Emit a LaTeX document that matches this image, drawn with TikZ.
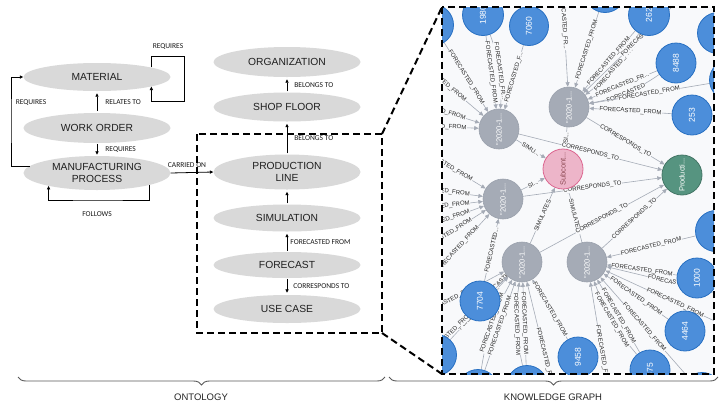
\documentclass[tikz,border=0pt]{standalone}
\usepackage{fontspec}
\setmainfont{Liberation Sans}
\newfontfamily\calfont{Carlito}
\usetikzlibrary{shapes.geometric,arrows.meta,decorations.pathreplacing}
\definecolor{ellgray}{HTML}{D9D9D9}
\definecolor{kgbg}{HTML}{F8F9FB}
\definecolor{gnode}{HTML}{A5ABB6}
\definecolor{gnodeb}{HTML}{9AA1AC}
\definecolor{bnode}{HTML}{4C8EDA}
\definecolor{bnodeb}{HTML}{2870C2}
\definecolor{pnode}{HTML}{EDB5C9}
\definecolor{pnodeb}{HTML}{DC6690}
\definecolor{ptext}{HTML}{8E4B55}
\definecolor{qnode}{HTML}{569480}
\definecolor{qnodeb}{HTML}{447666}
\definecolor{edgec}{HTML}{A5ABB6}
\definecolor{bracec}{HTML}{595959}
\pgfdeclarelayer{bg}
\pgfsetlayers{bg,main}
\newcommand\kgE[3]{\draw[kge] (#1) -- node[kgl]{#3} (#2);}
\newcommand\kgB[4]{\draw[kge] (#1) to[bend left=#4] node[kgl]{#3} (#2);}
\begin{document}
\begin{tikzpicture}[x=1pt,y=-1pt,
  ell/.style={ellipse, fill=ellgray, minimum width=147pt, minimum height=28pt, inner sep=0pt, align=center, text=black!88, font=\fontsize{10.3}{11.5}\selectfont},
  arr/.style={-{Triangle[length=3.5pt,width=3.2pt]}, line width=0.8pt},
  olbl/.style={font=\calfont\fontsize{7.5}{8}\selectfont, inner sep=0pt, text=black!90},
  gn/.style={circle, fill=gnode, draw=gnodeb, line width=0.6pt, minimum size=40pt, inner sep=0pt, text=white, font=\fontsize{7.5}{8}\selectfont, rotate=90},
  bn/.style={circle, fill=bnode, draw=bnodeb, line width=0.8pt, minimum size=41pt, inner sep=0pt, text=white, font=\fontsize{8.5}{9}\selectfont, rotate=90},
  kge/.style={draw=edgec, line width=0.6pt, -{Triangle[length=4.5pt,width=4pt]}},
  kgl/.style={sloped, font=\fontsize{6}{6.5}\selectfont, text=black!85, fill=kgbg, inner sep=0.5pt},
  dbox/.style={draw=black, line width=2pt, dash pattern=on 7pt off 4pt},
  brc/.style={draw=bracec, line width=0.9pt, decorate, decoration={brace, amplitude=8pt, mirror}}
]
\begin{pgfonlayer}{bg}
\fill[white] (0,0) rectangle (720,405);
\end{pgfonlayer}
\useasboundingbox (0,0) rectangle (720,405);

% ---------------- ontology ----------------
\node[ell] (mat) at (97,77) {MATERIAL};
\node[ell, minimum height=30pt] (wo) at (97,128) {WORK ORDER};
\node[ell, minimum height=34pt] (mp) at (97,173) {MANUFACTURING\\PROCESS};
\node[ell, minimum height=30pt] (org) at (287,62) {ORGANIZATION};
\node[ell, minimum height=29pt] (sf) at (287,107) {SHOP FLOOR};
\node[ell, minimum height=35pt] (pl) at (287,172) {PRODUCTION\\LINE};
\node[ell, minimum height=27pt] (sim) at (287,218) {SIMULATION};
\node[ell, minimum height=26pt] (fc) at (287,265) {FORECAST};
\node[ell, minimum height=28pt] (uc) at (287,309) {USE CASE};

\draw[arr, shorten <=2pt, shorten >=2pt] (wo) -- (mat) node[midway, olbl, anchor=west, xshift=8pt]{RELATES TO};
\draw[arr, shorten <=1pt, shorten >=1pt] (wo) -- (mp) node[midway, olbl, anchor=west, xshift=8pt]{REQUIRES};
\coordinate (lq) at (11,120);
\draw[arr] (mp.174) -| (lq) |- (mat.west);
\node[olbl] (rq2) at (31,103) {REQUIRES};
\coordinate (lp1) at (184,56);
\coordinate (lp2) at (184,101);
\draw[arr] (mat.10) |- (lp1) -- (lp2) -| (mat.-10);
\node[olbl] (rq1) at (168,47) {REQUIRES};
\coordinate (fl1) at (97,200);
\draw[arr] (mp.-13) |- (fl1) -| (mp.-165);
\node[olbl] (fol) at (97,214) {FOLLOWS};
\draw[arr] (mp.east) -- (pl.west);
\node[olbl] (cro) at (187,165) {CARRIED ON};
\draw[arr, shorten <=1pt, shorten >=2pt] (pl) -- (sf) node[midway, olbl, anchor=west, xshift=7pt]{BELONGS TO};
\draw[arr, shorten <=1pt, shorten >=2pt] (sf) -- (org) node[midway, olbl, anchor=west, xshift=7pt]{BELONGS TO};
\draw[arr, shorten <=1pt, shorten >=2pt] (sim) -- (pl);
\draw[arr, shorten <=1pt, shorten >=2pt] (fc) -- (sim) node[midway, olbl, anchor=west, xshift=3pt]{FORECASTED FROM};
\draw[arr, shorten <=1pt, shorten >=2pt] (fc) -- (uc) node[midway, olbl, anchor=west, xshift=6pt]{CORRESPONDS TO};

% ---------------- knowledge graph nodes ----------------
\begin{scope}
\clip (442,7) rectangle (714,374);
\node[gn] (g1) at (499,129) {"2020-1...};
\node[gn] (g2) at (569,107) {"2020-1...};
\node[gn] (g3) at (503,199) {"2020-1...};
\node[gn] (g4) at (522,262) {"2020-1...};
\node[gn] (g5) at (587,262) {"2020-1...};
\node[gn, fill=pnode, draw=pnodeb, line width=0.8pt, text=ptext] (p) at (563,169) {Subcont...};
\node[gn, fill=qnode, draw=qnodeb, line width=0.8pt] (q) at (682,175) {Producti...};
\node[bn] (b1) at (433,25) {};
\node[bn] (b2) at (483,15) {1980};
\node[bn, minimum size=39pt] (b3) at (529,26) {7060};
\node[bn] (b4) at (605,-8) {};
\node[bn] (b5) at (649,15) {262};
\node[bn] (b6) at (718,33) {};
\node[bn, minimum size=40pt] (b7) at (676,63) {8488};
\node[bn] (b8) at (730,80) {};
\node[bn, minimum size=40pt] (b9) at (692,115) {253};
\node[bn] (b10) at (716,231) {};
\node[bn, minimum size=40pt] (b11) at (697,278) {1000};
\node[bn, minimum size=40pt] (b12) at (685,331) {4464};
\node[bn, minimum size=40pt] (b13) at (650,370) {875};
\node[bn] (b14) at (702,393) {};
\node[bn, minimum size=40pt] (b15) at (578,357) {9458};
\node[bn] (b16) at (527,386) {};
\node[bn] (b17) at (478,390) {};
\node[bn] (b18) at (436,355) {};
\node[bn, minimum size=40pt] (b19) at (480,301) {7704};
\end{scope}
\coordinate (o1) at (400,45);
\coordinate (o2) at (392,95);
\coordinate (o3) at (392,125);
\coordinate (o4) at (560,-45);
\coordinate (o5) at (705,-25);
\coordinate (o6) at (405,140);
\coordinate (o7) at (395,185);
\coordinate (o8) at (395,212);
\coordinate (o9) at (397,238);
\coordinate (o10) at (405,262);
\coordinate (o11) at (425,285);
\coordinate (o12) at (395,330);
\coordinate (o13) at (392,392);
\coordinate (o14) at (562,425);
\coordinate (o15) at (745,300);
\coordinate (o16) at (745,335);
\coordinate (o17) at (615,430);

% ---------------- knowledge graph edges ----------------
\begin{pgfonlayer}{bg}
\clip (442,7) rectangle (714,374);
\fill[kgbg] (442,7) rectangle (714,374);
% into g1
\kgE{b1}{g1}{FORECASTED\_FROM}
\kgE{b2}{g1}{FORECASTED\_FROM}
\kgB{b2}{g1}{FORECASTED\_FR...}{12}
\kgE{b3}{g1}{FORECASTED\_F...}
\kgE{o1}{g1}{FORECASTED\_FROM}
\kgE{o2}{g1}{FORECASTED\_FROM}
\kgE{o3}{g1}{FORECASTED\_FROM}
% into g2
\kgE{o4}{g2}{FORECASTED\_FR...}
\kgE{b4}{g2}{FORECASTED\_FROM}
\kgE{b5}{g2}{FORECASTED\_FROM}
\kgB{b5}{g2}{FORECASTED\_FROM}{12}
\kgE{o5}{g2}{FORECASTED\_FROM}
\kgE{b7}{g2}{FORECASTED\_FR...}
\kgB{b7}{g2}{FORECASTED}{12}
\kgE{b8}{g2}{FORECASTED\_FROM}
\kgE{b9}{g2}{FORECASTED\_FROM}
% into g3
\kgE{o6}{g3}{FORECASTED\_FROM}
\kgE{o7}{g3}{FORECASTED\_FROM}
\kgE{o8}{g3}{FORECASTED\_FROM}
\kgE{o9}{g3}{FORECASTED\_FROM}
\kgE{o10}{g3}{FORECASTED\_FROM}
\kgE{o11}{g3}{FORECASTED\_FROM}
\kgE{b19}{g3}{FORECASTED...}
% into g4
\kgE{b19}{g4}{FORECASTED\_F...}
\kgE{b18}{g4}{FORECASTED\_FR...}
\kgE{b17}{g4}{FORECASTED\_FROM}
\kgB{b17}{g4}{FORECASTED\_FROM}{10}
\kgE{b16}{g4}{FORECASTED\_FROM}
\kgB{b16}{g4}{FORECASTED\_FROM}{10}
\kgE{b15}{g4}{FORECASTED\_FROM}
\kgE{o12}{g4}{FORECASTED\_FROM}
\kgE{o13}{g4}{FORECASTED\_FROM}
\kgE{o14}{g4}{FORECASTED\_F...}
% into g5
\kgE{b10}{g5}{FORECASTED\_FROM}
\kgE{b11}{g5}{FORECASTED\_FROM}
\kgE{o15}{g5}{FORECASTED\_FR...}
\kgE{o16}{g5}{FORECASTED\_FROM}
\kgE{b12}{g5}{FORECASTED\_FROM}
\kgE{b13}{g5}{FORECASTED\_FROM}
\kgB{b13}{g5}{FORECASTED\_FROM}{10}
\kgE{b14}{g5}{FORECASTED\_FROM}
\kgE{o17}{g5}{FORECASTED\_FROM}
% simulates
\kgE{g1}{p}{SIMU...}
\kgE{g2}{p}{SI...}
\kgE{g3}{p}{SI...}
\kgE{g4}{p}{SIMULATES}
\kgE{g5}{p}{SIMULATES}
% corresponds to
\kgE{g1}{q}{CORRESPONDS\_TO}
\kgE{g2}{q}{CORRESPONDS\_TO}
\kgE{g3}{q}{CORRESPONDS\_TO}
\kgE{g4}{q}{CORRESPONDS\_TO}
\kgE{g5}{q}{CORRESPONDS\_TO}
\end{pgfonlayer}

% ---------------- zoom boxes ----------------
\coordinate (sb1) at (197,134);
\coordinate (sb2) at (382,333);
\coordinate (sbne) at (382,134);
\coordinate (bb1) at (442,7);
\coordinate (bb2) at (714,374);
\coordinate (bbsw) at (442,374);
\draw[dbox] (sb1) rectangle (sb2);
\draw[dbox] (bb1) rectangle (bb2);
\draw[dbox] (sbne) -- (bb1);
\draw[dbox] (sb2) -- (bbsw);

% ---------------- braces ----------------
\coordinate (ob1) at (18,377);
\coordinate (ob2) at (385,377);
\coordinate (kb1) at (389,377);
\coordinate (kb2) at (718,377);
\draw[brc] (ob1) -- (ob2);
\draw[brc] (kb1) -- (kb2);
\node[font=\fontsize{9.5}{10}\selectfont, text=black!85] (ontl) at (201,397) {ONTOLOGY};
\node[font=\fontsize{9.5}{10}\selectfont, text=black!85] (kgtitle) at (553,397) {KNOWLEDGE GRAPH};
\end{tikzpicture}
\end{document}
